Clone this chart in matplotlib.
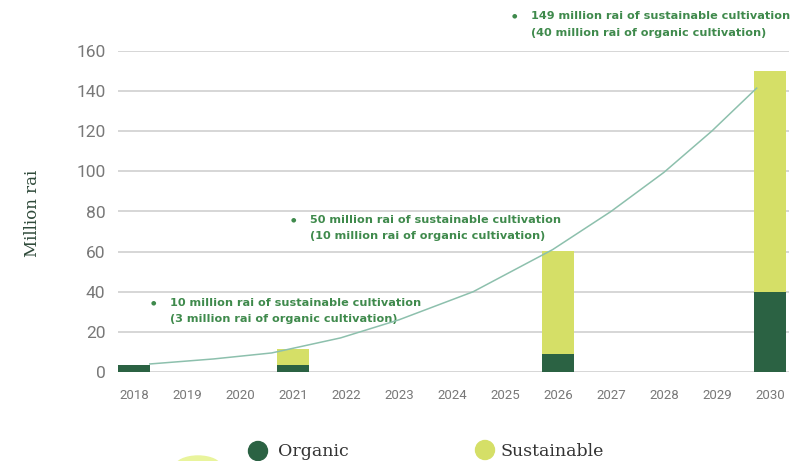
import matplotlib
matplotlib.use("Agg")
import matplotlib.pyplot as plt
from matplotlib.patches import Ellipse

# ---- data ----
years = list(range(2018, 2031))
bar_years = [2018, 2021, 2026, 2030]
organic = [3.5, 3.5, 9, 40]
sustainable_extra = [0, 8, 51.5, 110]   # part above the organic segment

trend_x = [2018.3, 2019.5, 2020.6, 2021.9, 2023.0, 2024.4, 2025.9, 2027.0, 2028.0, 2028.9, 2029.75]
trend_y = [4, 6.5, 9.5, 17, 26, 40, 61, 80, 99.5, 120, 141.5]

yticks = [0, 20, 40, 60, 80, 100, 120, 140, 160]

notes = [
    (2018.36, 34.5, "10 million rai of sustainable cultivation", "(3 million rai of organic cultivation)"),
    (2021.0, 76, "50 million rai of sustainable cultivation", "(10 million rai of organic cultivation)"),
    (2025.17, 177.3, "149 million rai of sustainable cultivation", "(40 million rai of organic cultivation)"),
]

DARK = "#2b6243"
LIGHT = "#d5df67"
TREND = "#8dc0ad"
NOTE = "#3f8a4c"
GRID = "#cccccc"
TICK = "#787878"

fig = plt.figure(figsize=(8.04, 4.61), dpi=100)
ax = fig.add_axes([118/804, 89/461, (789-118)/804, (372-51)/461])

ax.bar(bar_years, organic, width=0.6, color=DARK, zorder=3)
ax.bar(bar_years, sustainable_extra, bottom=organic, width=0.6, color=LIGHT, zorder=3)
ax.plot(trend_x, trend_y, color=TREND, lw=1.1, zorder=4)

ax.set_xlim(2017.7, 2030.36)
ax.set_ylim(0, 160)
ax.set_yticks(yticks)
ax.set_xticks(years)
ax.set_xticklabels([str(y) for y in years], fontsize=9.5, color=TICK, family="Roboto")
ax.set_yticklabels([str(v) for v in yticks], fontsize=12.5, color=TICK, family="Roboto")
ax.tick_params(axis="both", length=0)
ax.tick_params(axis="y", pad=9)
ax.tick_params(axis="x", pad=12)
ax.grid(axis="y", color=GRID, lw=1.1, zorder=0)
for s in ax.spines.values():
    s.set_visible(False)

for x, y, l1, l2 in notes:
    ax.text(x, y, "\u25CF", color=NOTE, fontsize=4.5, ha="center", va="center",
            family="DejaVu Sans", clip_on=False)
    ax.text(x + 0.32, y, l1, color=NOTE, fontsize=8.1, ha="left", va="center",
            family="DejaVu Sans", fontweight="semibold", clip_on=False)
    ax.text(x + 0.32, y - 8.3, l2, color=NOTE, fontsize=8.1, ha="left", va="center",
            family="DejaVu Sans", fontweight="semibold", clip_on=False)

fig.text(33/804, 1 - 213/461, "Million rai", rotation=90, ha="center", va="center",
         fontsize=12, family="DejaVu Serif", color="#2f4a3a")

# legend
def circ(xp, yp, color):
    e = Ellipse((xp/804, 1 - yp/461), 19/804, 19/461, transform=fig.transFigure,
                color=color, clip_on=False)
    fig.add_artist(e)

circ(258, 451, DARK)
fig.text(278/804, 1 - 451/461, "Organic", ha="left", va="center", fontsize=12.5,
         family="DejaVu Serif", color="#333333")
circ(485, 450, LIGHT)
fig.text(501/804, 1 - 451/461, "Sustainable", ha="left", va="center", fontsize=12.5,
         family="DejaVu Serif", color="#333333")

# partly visible decorative blob at the bottom-left
blob = Ellipse((198/804, 1 - 467/461), 46/804, 22/461, transform=fig.transFigure,
               color="#e9f49c", clip_on=False)
fig.add_artist(blob)

fig.savefig("out.png", dpi=100)
